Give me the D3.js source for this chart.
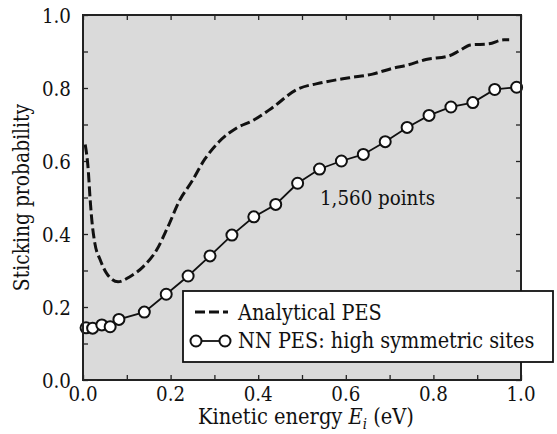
<!DOCTYPE html>
<html>
<head>
<meta charset="utf-8">
<script src="https://cdn.jsdelivr.net/npm/d3@7"></script>
<style>
  html, body { margin: 0; padding: 0; background: #fff; }
</style>
</head>
<body>
<svg id="chart" width="557" height="434"></svg>
<script>
// Sticking probability vs. kinetic energy
const analyticalE = [0.005, 0.012, 0.016, 0.020, 0.027, 0.039, 0.054, 0.080, 0.107, 0.137, 0.168, 0.194, 0.221, 0.248, 0.278, 0.310, 0.350, 0.388, 0.430, 0.487, 0.547, 0.608, 0.661, 0.707, 0.741, 0.783, 0.836, 0.859, 0.885, 0.927, 0.961, 0.973];
const analyticalP = [0.645, 0.575, 0.500, 0.440, 0.375, 0.330, 0.292, 0.269, 0.283, 0.310, 0.356, 0.420, 0.493, 0.543, 0.605, 0.652, 0.690, 0.711, 0.744, 0.795, 0.815, 0.828, 0.838, 0.854, 0.863, 0.878, 0.888, 0.902, 0.918, 0.921, 0.932, 0.932];

const nnE = [0.007, 0.022, 0.043, 0.062, 0.082, 0.14, 0.19, 0.24, 0.29, 0.34, 0.39, 0.44, 0.49, 0.54, 0.59, 0.64, 0.69, 0.74, 0.79, 0.84, 0.89, 0.94, 0.99];
const nnP = [0.143, 0.142, 0.151, 0.146, 0.166, 0.186, 0.235, 0.285, 0.340, 0.397, 0.447, 0.481, 0.539, 0.578, 0.600, 0.618, 0.653, 0.692, 0.725, 0.748, 0.760, 0.796, 0.802];

const tickValues = [0.0, 0.2, 0.4, 0.6, 0.8, 1.0];
const minorTicks = d3.range(0, 1.0001, 0.1);
const seriesNames = ["Analytical PES", "NN PES: high symmetric sites"];
const annotation = "1,560 points";

// serif face, narrowed horizontally to a Times-like width
const FONT = "'DejaVu Serif', serif";

const svg = d3.select("#chart");
const plot = { left: 83, top: 15, right: 521, bottom: 380 };

const x = d3.scaleLinear().domain([0, 1]).range([plot.left, plot.right]);
const y = d3.scaleLinear().domain([0, 1]).range([plot.bottom, plot.top]);

function addText(parent, px, py, anchor, opts) {
  const o = Object.assign({ size: 21, sx: 0.87, extra: "" }, opts);
  return parent.append("text")
    .attr("transform", `translate(${px},${py})${o.extra} scale(${o.sx},1)`)
    .attr("text-anchor", anchor)
    .attr("font-family", FONT).style("font-family", FONT)
    .attr("font-size", o.size).attr("fill", "#111");
}

// plot background
svg.append("rect")
  .attr("x", plot.left).attr("y", plot.top)
  .attr("width", plot.right - plot.left).attr("height", plot.bottom - plot.top)
  .attr("fill", "#dadada");

// inward ticks on all four sides
const tickLen = 5;
const axes = [
  { gen: d3.axisBottom(x), t: `translate(0,${plot.bottom})` },
  { gen: d3.axisTop(x), t: `translate(0,${plot.top})` },
  { gen: d3.axisLeft(y), t: `translate(${plot.left},0)` },
  { gen: d3.axisRight(y), t: `translate(${plot.right},0)` }
];
axes.forEach(a => {
  const g = svg.append("g").attr("transform", a.t)
    .call(a.gen.tickValues(minorTicks).tickSizeInner(-tickLen).tickSizeOuter(0).tickFormat(""));
  g.select(".domain").remove();
  g.selectAll("line").attr("stroke", "#222").attr("stroke-width", 1.3);
});

// tick labels
const xLab = svg.append("g");
tickValues.forEach(v => addText(xLab, x(v), plot.bottom + 21, "middle").text(v.toFixed(1)));
const yLab = svg.append("g");
tickValues.forEach(v => addText(yLab, plot.left - 12, y(v) + 7.5, "end").text(v.toFixed(1)));

// axis titles
const xt = addText(svg, (plot.left + plot.right) / 2 + 4, plot.bottom + 44, "middle", { size: 22, sx: 0.885 });
xt.append("tspan").text("Kinetic energy ");
xt.append("tspan").attr("font-style", "italic").text("E");
xt.append("tspan").attr("font-style", "italic").attr("font-size", 15).attr("dy", 5).text("i");
xt.append("tspan").attr("dy", -5).text(" (eV)");

addText(svg, 29, (plot.top + plot.bottom) / 2, "middle", { extra: " rotate(-90)", size: 21.5 })
  .text("Sticking probability");

// curves
const analytical = analyticalE.map((e, i) => [e, analyticalP[i]]);
const nn = nnE.map((e, i) => [e, nnP[i]]);

svg.append("path").datum(analytical)
  .attr("fill", "none").attr("stroke", "#111").attr("stroke-width", 3)
  .attr("stroke-dasharray", "10,4")
  .attr("d", d3.line().x(d => x(d[0])).y(d => y(d[1])).curve(d3.curveMonotoneX));

svg.append("path").datum(nn)
  .attr("fill", "none").attr("stroke", "#111").attr("stroke-width", 1.8)
  .attr("d", d3.line().x(d => x(d[0])).y(d => y(d[1])));

svg.append("g").selectAll("circle").data(nn).join("circle")
  .attr("cx", d => x(d[0])).attr("cy", d => y(d[1])).attr("r", 5.5)
  .attr("fill", "#fff").attr("stroke", "#111").attr("stroke-width", 2);

// frame
svg.append("rect")
  .attr("x", plot.left).attr("y", plot.top)
  .attr("width", plot.right - plot.left).attr("height", plot.bottom - plot.top)
  .attr("fill", "none").attr("stroke", "#222").attr("stroke-width", 2);

// annotation
addText(svg, 320, 205, "start").text(annotation);

// legend
const lg = svg.append("g");
lg.append("rect").attr("x", 183).attr("y", 291).attr("width", 370).attr("height", 71)
  .attr("fill", "#fff").attr("stroke", "#111").attr("stroke-width", 1.8);
lg.append("line").attr("x1", 195).attr("x2", 228).attr("y1", 312).attr("y2", 312)
  .attr("stroke", "#111").attr("stroke-width", 3).attr("stroke-dasharray", "10,4");
lg.append("line").attr("x1", 196).attr("x2", 225).attr("y1", 341).attr("y2", 341)
  .attr("stroke", "#111").attr("stroke-width", 1.8);
lg.selectAll("circle").data([196, 225]).join("circle")
  .attr("cx", d => d).attr("cy", 341).attr("r", 5.5)
  .attr("fill", "#fff").attr("stroke", "#111").attr("stroke-width", 2);
seriesNames.forEach((name, i) =>
  addText(lg, 238, 320 + i * 28, "start", { size: 22, sx: 0.877 }).text(name));
</script>
</body>
</html>
